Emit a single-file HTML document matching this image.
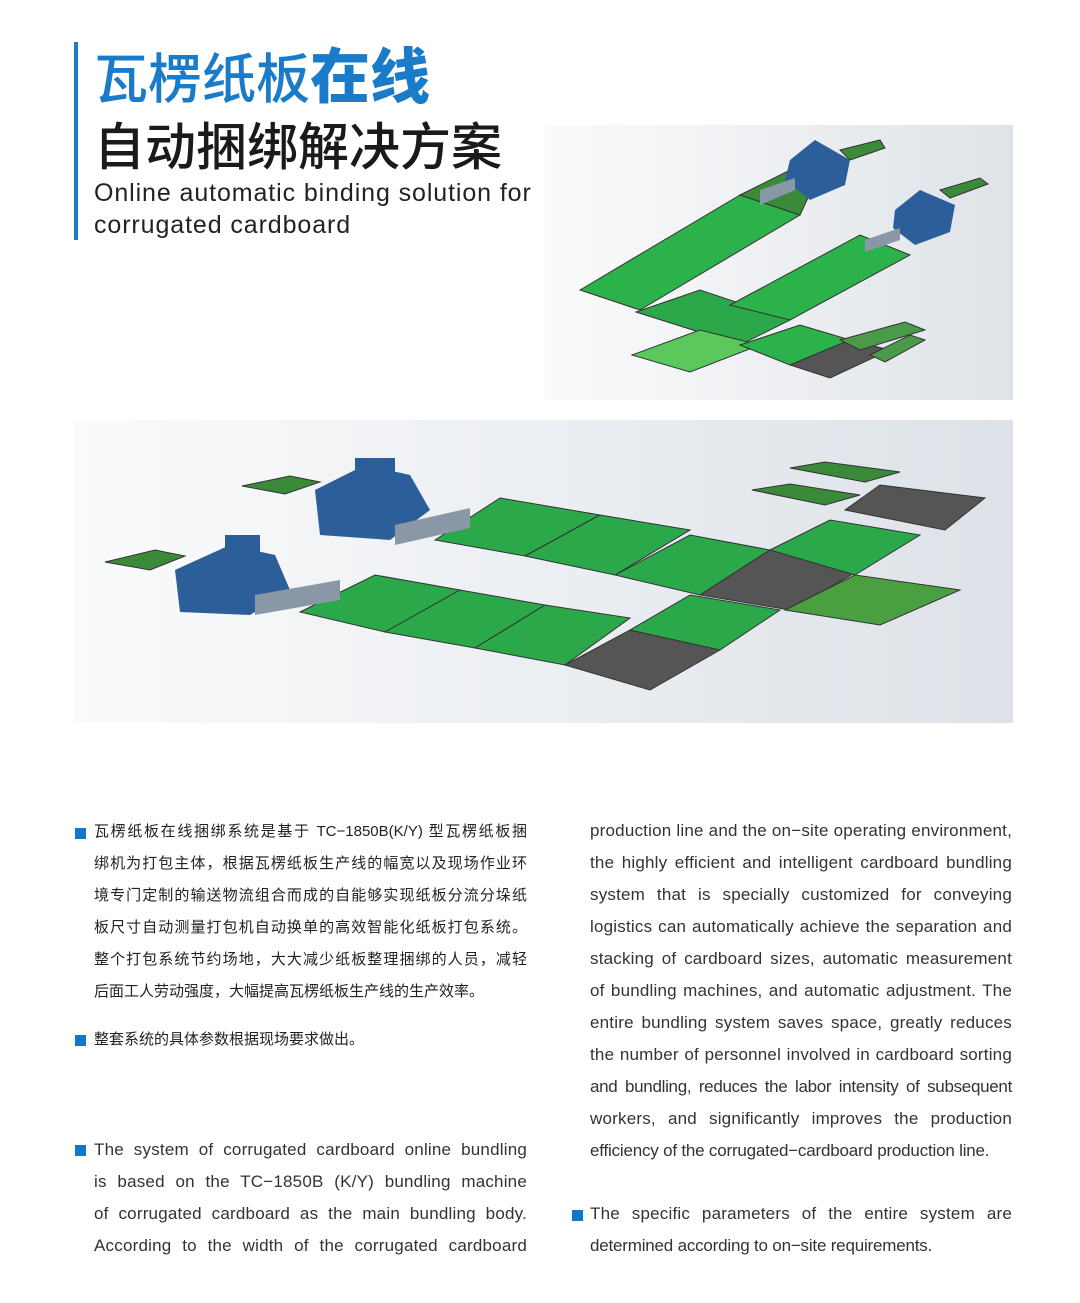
<!DOCTYPE html>
<html><head><meta charset="utf-8"><style>
*{margin:0;padding:0;box-sizing:border-box}
body{width:1080px;height:1303px;background:#fff;position:relative;overflow:hidden;font-family:"Liberation Sans","Noto Sans CJK SC",sans-serif;color:#222}
.a{position:absolute}
.l{position:absolute;height:32px;line-height:32px;white-space:nowrap;text-align:justify;text-align-last:justify}
.cn{font-size:15px;left:94px;width:433px}
.en{font-size:17px;color:#333;letter-spacing:0.2px}
.nl{text-align-last:left}
.b{position:absolute;width:11px;height:11px;background:#0f78c8}
</style></head><body>
<div class="a" style="left:74px;top:42px;width:4px;height:198px;background:#1a7bc9"></div>
<div class="a" style="left:94px;top:38px;font-size:54px;line-height:70px;color:#1a7bc9;font-family:'Noto Sans CJK SC',sans-serif;font-weight:500;white-space:nowrap">瓦楞纸板<span style="font-weight:900;font-size:60px">在线</span></div>
<div class="a" style="left:94px;top:110px;font-size:51px;line-height:66px;color:#1a1a1a;font-family:'Noto Sans CJK SC',sans-serif;font-weight:500;white-space:nowrap">自动捆绑解决方案</div>
<div class="a" style="left:94px;top:177px;font-size:25px;line-height:32px;color:#222;letter-spacing:0.9px;white-space:nowrap">Online automatic binding solution for<br>corrugated cardboard</div>

<svg class="a" style="left:545px;top:125px" width="468" height="275" viewBox="545 125 468 275">
<defs><linearGradient id="g1" x1="0" x2="1" y1="0" y2="0"><stop offset="0" stop-color="#fbfbfc"/><stop offset="1" stop-color="#dfe3e8"/></linearGradient></defs>
<rect x="545" y="125" width="468" height="275" fill="url(#g1)"/>
<g stroke="#333" stroke-width="1">
<polygon points="580,290 740,195 800,215 640,310" fill="#2bb24a"/>
<polygon points="740,195 800,165 820,172 800,215" fill="#3a8a3a"/>
<polygon points="840,150 880,140 885,148 850,160" fill="#3a8a3a"/>
<polygon points="636,312 700,290 790,320 740,345" fill="#2aa84a"/>
<polygon points="730,305 860,235 910,255 790,320" fill="#2bb24a"/>
<polygon points="940,190 980,178 988,184 950,198" fill="#3a8a3a"/>
<polygon points="632,355 700,330 760,345 690,372" fill="#5ac85a"/>
<polygon points="740,345 800,325 850,340 790,365" fill="#2bb24a"/>
<polygon points="790,365 850,340 890,350 830,378" fill="#555"/>
<polygon points="840,340 905,322 925,330 860,350" fill="#4a9a4a"/>
<polygon points="870,355 910,335 925,340 885,362" fill="#4a9a4a"/>
</g>
<g fill="#2c5f9a">
<polygon points="790,160 815,140 850,160 845,185 810,200 785,180"/>
<polygon points="895,210 920,190 955,205 950,232 915,245 893,228"/>
</g>
<g fill="#8a97a6"><polygon points="760,190 795,178 795,190 760,205"/><polygon points="865,240 900,228 900,240 865,252"/></g>
</svg>

<svg class="a" style="left:74px;top:420px" width="939" height="303" viewBox="74 420 939 303">
<defs><linearGradient id="g2" x1="0" x2="1" y1="0" y2="0"><stop offset="0" stop-color="#fafbfc"/><stop offset="1" stop-color="#dde2e8"/></linearGradient></defs>
<rect x="74" y="420" width="939" height="303" fill="url(#g2)"/>
<g stroke="#333" stroke-width="1">
<polygon points="300,612 375,575 460,590 385,632" fill="#2ba84a"/>
<polygon points="385,632 460,590 545,605 475,648" fill="#2ba84a"/>
<polygon points="475,648 545,605 630,618 565,665" fill="#2ba84a"/>
<polygon points="565,665 630,630 720,650 650,690" fill="#555"/>
<polygon points="630,630 690,595 780,610 720,650" fill="#2ba84a"/>
<polygon points="435,540 500,498 600,515 525,556" fill="#2ba84a"/>
<polygon points="525,556 600,515 690,530 615,575" fill="#2ba84a"/>
<polygon points="615,575 690,535 770,550 700,595" fill="#2ba84a"/>
<polygon points="700,595 770,550 860,570 790,610" fill="#555"/>
<polygon points="770,550 830,520 920,535 855,575" fill="#2ba84a"/>
<polygon points="785,610 855,575 960,590 880,625" fill="#4aa040"/>
<polygon points="845,510 880,485 985,498 945,530" fill="#555"/>
<polygon points="752,490 790,484 860,495 825,505" fill="#3a8a3a"/>
<polygon points="790,468 825,462 900,472 865,482" fill="#3a8a3a"/>
<polygon points="105,562 155,550 185,556 150,570" fill="#3a8a3a"/>
<polygon points="242,486 290,476 320,482 285,494" fill="#3a8a3a"/>
</g>
<g fill="#2c5f9a">
<polygon points="175,570 230,545 275,555 290,590 250,615 180,612"/>
<polygon points="315,490 365,465 410,475 430,510 390,540 320,535"/>
<rect x="225" y="535" width="35" height="25"/>
<rect x="355" y="458" width="40" height="25"/>
</g>
<g fill="#8a97a6"><polygon points="255,595 340,580 340,600 255,615"/><polygon points="395,525 470,508 470,528 395,545"/></g>
</svg>

<div class="b" style="left:75px;top:828px"></div>
<div class="l cn" style="top:816px">瓦楞纸板在线捆绑系统是基于 TC−1850B(K/Y) 型瓦楞纸板捆</div>
<div class="l cn" style="top:848px">绑机为打包主体，根据瓦楞纸板生产线的幅宽以及现场作业环</div>
<div class="l cn" style="top:880px">境专门定制的输送物流组合而成的自能够实现纸板分流分垛纸</div>
<div class="l cn" style="top:912px">板尺寸自动测量打包机自动换单的高效智能化纸板打包系统。</div>
<div class="l cn" style="top:944px">整个打包系统节约场地，大大减少纸板整理捆绑的人员，减轻</div>
<div class="l cn nl" style="top:976px">后面工人劳动强度，大幅提高瓦楞纸板生产线的生产效率。</div>
<div class="b" style="left:75px;top:1035px"></div>
<div class="l cn nl" style="top:1024px">整套系统的具体参数根据现场要求做出。</div>

<div class="b" style="left:75px;top:1145px"></div>
<div class="l en" style="left:94px;width:433px;top:1134px">The system of corrugated cardboard online bundling</div>
<div class="l en" style="left:94px;width:433px;top:1166px">is based on the TC−1850B (K/Y) bundling machine</div>
<div class="l en" style="left:94px;width:433px;top:1198px">of corrugated cardboard as the main bundling body.</div>
<div class="l en" style="left:94px;width:433px;top:1230px">According to the width of the corrugated cardboard</div>

<div class="l en" style="left:590px;width:422px;top:815px">production line and the on−site operating environment,</div>
<div class="l en" style="left:590px;width:422px;top:847px">the highly efficient and intelligent cardboard bundling</div>
<div class="l en" style="left:590px;width:422px;top:879px">system that is specially customized for conveying</div>
<div class="l en" style="left:590px;width:422px;top:911px">logistics can automatically achieve the separation and</div>
<div class="l en" style="left:590px;width:422px;top:943px">stacking of cardboard sizes, automatic measurement</div>
<div class="l en" style="left:590px;width:422px;top:975px">of bundling machines, and automatic adjustment. The</div>
<div class="l en" style="left:590px;width:422px;top:1007px">entire bundling system saves space, greatly reduces</div>
<div class="l en" style="left:590px;width:422px;top:1039px">the number of personnel involved in cardboard sorting</div>
<div class="l en" style="left:590px;width:422px;top:1071px;letter-spacing:-0.3px">and bundling, reduces the labor intensity of subsequent</div>
<div class="l en" style="left:590px;width:422px;top:1103px">workers, and significantly improves the production</div>
<div class="l en nl" style="left:590px;width:422px;top:1135px;letter-spacing:-0.2px">efficiency of the corrugated−cardboard production line.</div>
<div class="b" style="left:572px;top:1210px"></div>
<div class="l en" style="left:590px;width:422px;top:1198px">The specific parameters of the entire system are</div>
<div class="l en nl" style="left:590px;width:422px;top:1230px;letter-spacing:-0.2px">determined according to on−site requirements.</div>
</body></html>
